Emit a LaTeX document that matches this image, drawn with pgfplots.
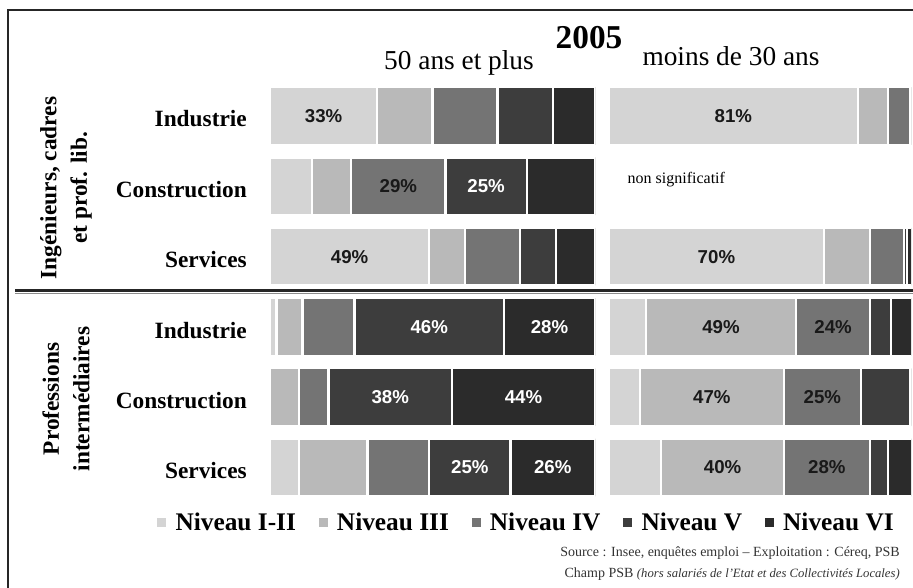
\documentclass[border=0pt]{standalone}
\usepackage{fontspec}
\setmainfont{Liberation Serif}
\setsansfont{Liberation Sans}
\usepackage{pgfplots}
\usepackage{pgfplotstable}
\pgfplotsset{compat=1.18}

\definecolor{cA}{HTML}{D4D4D4}
\definecolor{cB}{HTML}{B9B9B9}
\definecolor{cC}{HTML}{747474}
\definecolor{cD}{HTML}{3D3D3D}
\definecolor{cE}{HTML}{2B2B2B}

% 50 ans et plus
\pgfplotstableread{
y a b c d e
0 33 17 20 17 13
1 13 12 29 25 21
2 49 11 17 11 12
3 2 8 16 46 28
4 0 9 9 38 44
5 9 21 19 25 26
}\leftdata
% moins de 30 ans
\pgfplotstableread{
y a b c d e
0 81 10 7 1 1
1 0 0 0 0 0
2 70 15 11 1 3
3 12 49 24 7 8
4 10 47 25 16 2
5 17 40 28 6 9
}\rightdata

\pgfplotsset{
 frame/.style={scale only axis, y dir=reverse,
  ymin=-0.5, ymax=5.5, xmin=0, hide axis, height=316.35pt},
 panel/.style={frame, xbar stacked, bar width=0.82,
  every axis plot/.append style={draw=white, line width=1.6pt}},
}
\tikzset{
  lbk/.style={font=\sffamily\bfseries\fontsize{14}{16}\selectfont, text=black!90},
  lwh/.style={font=\sffamily\bfseries\fontsize{14}{16}\selectfont, text=white},
}

\begin{document}
\begin{tikzpicture}
\path[use as bounding box] (0,0) rectangle (684.75pt,-440.25pt);
\begin{scope}[x=0.75pt,y=-0.75pt]
  \draw[line width=1.5pt, black!85] (8,600) -- (8,10) -- (930,10);
  \draw[line width=1.6pt, black!85] (15,290.5) -- (930,290.5);
  \draw[line width=0.6pt, black!45] (15,293.3) -- (930,293.3);
  \node[font=\bfseries\fontsize{25}{28}\selectfont, anchor=base, inner sep=0pt] at (589,48) {2005};
  \node[font=\fontsize{20.5}{24}\selectfont, anchor=base, inner sep=0pt] at (459,69) {50 ans et plus};
  \node[font=\fontsize{20.5}{24}\selectfont, anchor=base, inner sep=0pt] at (731,65) {moins de 30 ans};
  \foreach \yy/\t in {116/Industrie, 186.5/Construction, 257/Services, 328/Industrie, 397.5/Construction, 467.5/Services}
    \node[font=\bfseries\fontsize{17.5}{20}\selectfont, anchor=base east, inner sep=0pt] at (247,{\yy+10.5}) {\t};
  \node[rotate=90, align=center, font=\bfseries\fontsize{17.5}{23}\selectfont] at (66,188) {Ingénieurs, cadres\\et prof. lib.};
  \node[rotate=90, align=center, font=\bfseries\fontsize{17.5}{23}\selectfont] at (66,399) {Professions\\intermédiaires};
  \node[anchor=base east, font=\fontsize{10.5}{13}\selectfont, text=black!80, inner sep=0pt] at (900,556) {Source : Insee, enquêtes emploi – Exploitation : Céreq, PSB};
  \node[anchor=base east, font=\fontsize{10.5}{13}\selectfont, text=black!80, inner sep=0pt] at (900,577) {Champ PSB {\fontsize{9.5}{12}\selectfont\itshape (hors salariés de l'Etat et des Collectivités Locales)}};
\end{scope}

% ---- 50 ans et plus
\begin{axis}[panel, at={(202.5pt,-60.64pt)}, anchor=north west,
  width=243.75pt, xmax=100,
  legend columns=5,
  legend image code/.code={\path[#1, draw=none] (0pt,-3.4pt) rectangle (6.8pt,3.4pt);},
  legend style={at={(axis description cs:-0.348,-0.048)}, anchor=west,
    draw=none, fill=none, inner sep=0pt,
    font=\bfseries\fontsize{19}{22}\selectfont,
    /tikz/every odd column/.append style={column sep=5pt},
    /tikz/every even column/.append style={column sep=15pt}},
]
\addplot[fill=cA] table[x=a,y=y]{\leftdata};
\addplot[fill=cB] table[x=b,y=y]{\leftdata};
\addplot[fill=cC] table[x=c,y=y]{\leftdata};
\addplot[fill=cD] table[x=d,y=y]{\leftdata};
\addplot[fill=cE] table[x=e,y=y]{\leftdata};
\legend{Niveau I-II, Niveau III, Niveau IV, Niveau V, Niveau VI}
\end{axis}
\begin{axis}[frame, at={(202.5pt,-60.64pt)}, anchor=north west,
  width=243.75pt, xmax=100]
\node[lbk] at (axis cs:16.5,0) {33\%};
\node[lbk] at (axis cs:39.5,1) {29\%};
\node[lwh] at (axis cs:66.5,1) {25\%};
\node[lbk] at (axis cs:24.5,2) {49\%};
\node[lwh] at (axis cs:49,3) {46\%};
\node[lwh] at (axis cs:86,3) {28\%};
\node[lwh] at (axis cs:37,4) {38\%};
\node[lwh] at (axis cs:78,4) {44\%};
\node[lwh] at (axis cs:61.5,5) {25\%};
\node[lwh] at (axis cs:87,5) {26\%};
\end{axis}

% ---- moins de 30 ans
\begin{axis}[panel, at={(456.75pt,-60.64pt)}, anchor=north west,
  width=226.5pt, xmax=98.4]
\addplot[fill=cA] table[x=a,y=y]{\rightdata};
\addplot[fill=cB] table[x=b,y=y]{\rightdata};
\addplot[fill=cC] table[x=c,y=y]{\rightdata};
\addplot[fill=cD] table[x=d,y=y]{\rightdata};
\addplot[fill=cE] table[x=e,y=y]{\rightdata};
\end{axis}
\begin{axis}[frame, at={(456.75pt,-60.64pt)}, anchor=north west,
  width=226.5pt, xmax=98.4]
\node[lbk] at (axis cs:40.5,0) {81\%};
\node[anchor=west, font=\fontsize{12}{14}\selectfont, inner sep=0pt] at (axis cs:6,0.9) {non significatif};
\node[lbk] at (axis cs:35,2) {70\%};
\node[lbk] at (axis cs:36.5,3) {49\%};
\node[lbk] at (axis cs:73,3) {24\%};
\node[lbk] at (axis cs:33.5,4) {47\%};
\node[lbk] at (axis cs:69.5,4) {25\%};
\node[lbk] at (axis cs:37,5) {40\%};
\node[lbk] at (axis cs:71,5) {28\%};
\end{axis}
\end{tikzpicture}
\end{document}
